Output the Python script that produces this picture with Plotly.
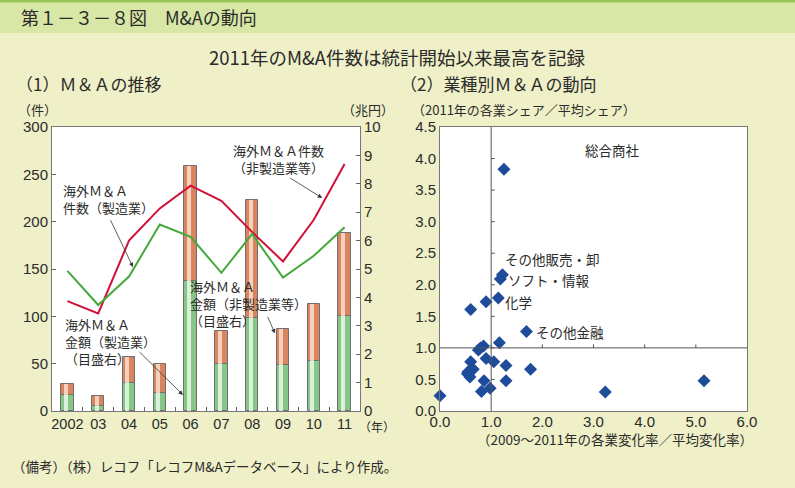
import plotly.graph_objects as go

# ---------------- data ----------------
years = ["2002", "03", "04", "05", "06", "07", "08", "09", "10", "11"]
amount_mfg = [0.56, 0.19, 1.00, 0.62, 4.59, 1.67, 3.29, 1.63, 1.76, 3.36]      # 兆円 (green)
amount_nonmfg = [0.38, 0.35, 0.89, 1.04, 4.02, 1.15, 4.14, 1.26, 2.01, 2.91]   # 兆円 (orange)
count_nonmfg = [116, 103, 180, 214, 238, 222, 189, 158, 202, 261]             # 件 (red)
count_mfg = [148, 112, 142, 197, 184, 146, 187, 141, 164, 194]                # 件 (green)

change_ratio = [1.25, 1.22, 1.18, 1.14, 1.69, 0.60, 0.90, 1.16, 0.75, 0.79, 0.85,
                0.60, 0.90, 1.05, 1.29, 0.65, 0.55, 0.535, 0.585, 0.86, 1.29, 1.77,
                0.81, 0.98, 0.00, 3.23, 5.16]
share_ratio = [3.83, 2.16, 2.09, 1.79, 1.26, 1.61, 1.73, 1.08, 0.965, 1.00, 1.03,
               0.78, 0.83, 0.78, 0.72, 0.66, 0.62, 0.59, 0.54, 0.48, 0.48, 0.66,
               0.31, 0.36, 0.24, 0.30, 0.48]
y_ticks_r = [0.0, 0.5, 1.0, 1.5, 2.0, 2.5, 3.0, 3.5, 4.0, 4.5]
x_ticks_r = [0.0, 1.0, 2.0, 3.0, 4.0, 5.0, 6.0]

FONT = "Liberation Sans, Noto Sans CJK JP, sans-serif"
JFONT = "Noto Sans CJK JP, sans-serif"
TXT = "#2b2b2b"
BG = "#EFF0C8"

W, H = 795, 488
def px(x):
    return x / W
def py(y):
    return 1 - y / H

fig = go.Figure()

# bars (axis y: right side, 兆円)
fig.add_trace(go.Bar(x=years, y=amount_mfg, width=0.4, offset=-0.2,
                     marker=dict(color="#86C686", line=dict(color="#6f6f6f", width=1)),
                     xaxis="x", yaxis="y", showlegend=False))
fig.add_trace(go.Bar(x=years, y=amount_nonmfg, base=amount_mfg, width=0.4, offset=-0.2,
                     marker=dict(color="#DB8560", line=dict(color="#6f6f6f", width=1)),
                     xaxis="x", yaxis="y", showlegend=False))
# highlight stripes for a cylinder look
fig.add_trace(go.Bar(x=years, y=amount_mfg, width=0.13, offset=-0.12,
                     marker=dict(color="rgba(235,248,235,0.85)", line=dict(width=0)),
                     xaxis="x", yaxis="y", showlegend=False))
fig.add_trace(go.Bar(x=years, y=amount_nonmfg, base=amount_mfg, width=0.13, offset=-0.12,
                     marker=dict(color="rgba(250,222,205,0.85)", line=dict(width=0)),
                     xaxis="x", yaxis="y", showlegend=False))

# lines (axis y2: left side, 件)
fig.add_trace(go.Scatter(x=years, y=count_nonmfg, mode="lines",
                         line=dict(color="#D0103A", width=2),
                         xaxis="x", yaxis="y2", showlegend=False))
fig.add_trace(go.Scatter(x=years, y=count_mfg, mode="lines",
                         line=dict(color="#44A83A", width=2),
                         xaxis="x", yaxis="y2", showlegend=False))

# scatter (right chart)
fig.add_trace(go.Scatter(x=change_ratio, y=share_ratio, mode="markers",
                         marker=dict(symbol="diamond", size=10, color="#1E4C9A"),
                         xaxis="x2", yaxis="y3", showlegend=False, cliponaxis=False))

shapes = []
# header band
shapes.append(dict(type="rect", xref="paper", yref="paper", x0=0, x1=1, y0=py(33), y1=1,
                   fillcolor="#D8E7A5", line=dict(width=0), layer="below"))
shapes.append(dict(type="rect", xref="paper", yref="paper", x0=0, x1=1, y0=py(2.5), y1=1,
                   fillcolor="#9BC45A", line=dict(width=0), layer="below"))
# reference lines in right chart
shapes.append(dict(type="line", xref="x2", yref="y3", x0=1, x1=1, y0=0, y1=4.5,
                   line=dict(color="#555", width=1)))
shapes.append(dict(type="line", xref="x2", yref="y3", x0=0, x1=6, y0=1, y1=1,
                   line=dict(color="#555", width=1)))
for t in y_ticks_r[1:-1]:
    shapes.append(dict(type="line", xref="x2", yref="y3", x0=1, x1=1.07, y0=t, y1=t,
                       line=dict(color="#555", width=1)))
for t in x_ticks_r[1:-1]:
    shapes.append(dict(type="line", xref="x2", yref="y3", x0=t, x1=t, y0=1, y1=1.055,
                       line=dict(color="#555", width=1)))

ann = []
def text(x, y, s, size=13, xanchor="left", yanchor="middle", family=JFONT, color=TXT):
    ann.append(dict(xref="paper", yref="paper", x=px(x), y=py(y), text=s, showarrow=False,
                    xanchor=xanchor, yanchor=yanchor, align="left",
                    font=dict(size=size, family=family, color=color)))

text(19, 17, "第１－３－８図　M&Aの動向", size=18)
text(397, 57, "2011年のM&A件数は統計開始以来最高を記録", size=18.5, xanchor="center")
text(14, 84, "（1）Ｍ＆Ａの推移", size=17)
text(398, 84, "（2）業種別Ｍ＆Ａの動向", size=17)
text(16, 110, "（件）", size=13)
text(340, 110, "（兆円）", size=13)
text(410, 110, "（2011年の各業シェア／平均シェア）", size=13)
text(615, 439, "（2009～2011年の各業変化率／平均変化率）", size=13.5, xanchor="center")
text(10, 466, "（備考）（株）レコフ「レコフM&Aデータベース」により作成。", size=13.5)
text(357, 426, "（年）", size=12)

# left chart labels
text(231, 159, "海外Ｍ＆Ａ件数<br>（非製造業等）", size=13)
text(61, 199, "海外Ｍ＆Ａ<br>件数（製造業）", size=13)
text(188, 303, "海外Ｍ＆Ａ<br>金額（非製造業等）<br>（目盛右）", size=13)
text(63, 341, "海外Ｍ＆Ａ<br>金額（製造業）<br>（目盛右）", size=13)

# right chart labels
text(583, 150, "総合商社", size=13.5)
text(503, 259, "その他販売・卸", size=13.5)
text(506, 280, "ソフト・情報", size=13.5)
text(503, 302, "化学", size=13.5)
text(534, 332, "その他金融", size=13.5)

# arrows (head at data position, tail in data coords)
arrows = [
    (8.27, 225, 7.19, 247),
    (2.13, 152, 1.38, 203),
    (6.74, 82, 6.48, 101),
    (3.75, 17, 2.29, 64),
]
for hx, hy, tx, ty in arrows:
    ann.append(dict(xref="x", yref="y2", axref="x", ayref="y2", x=hx, y=hy, ax=tx, ay=ty,
                    text="", showarrow=True, arrowhead=2, arrowsize=1.1, arrowwidth=0.8,
                    arrowcolor="#333"))

fig.update_layout(
    autosize=True, margin=dict(l=0, r=0, t=0, b=0, autoexpand=False),
    paper_bgcolor=BG, plot_bgcolor="white",
    barmode="overlay", bargap=0,
    font=dict(family=FONT, size=15, color=TXT),
    shapes=shapes, annotations=ann,
    xaxis=dict(domain=[px(52), px(360)], type="category", range=[-0.5, 9.5],
               tickson="boundaries", ticks="inside", ticklen=4, tickcolor="#666",
               tickangle=0,
               showline=True, linecolor="#777", mirror=True, showgrid=False,
               tickfont=dict(size=14.5, family=FONT, color=TXT), anchor="y"),
    yaxis=dict(domain=[py(411), py(127)], range=[0, 10], dtick=1, side="right",
               ticks="inside", ticklen=4, tickcolor="#666", showgrid=False, zeroline=False,
               showline=True, linecolor="#777", tickfont=dict(size=15, color=TXT),
               anchor="x"),
    yaxis2=dict(range=[0, 300], dtick=50, side="left", overlaying="y", anchor="x",
                ticks="inside", ticklen=4, tickcolor="#666", showgrid=False, zeroline=False,
                showline=True, linecolor="#777", tickfont=dict(size=15, color=TXT)),
    xaxis2=dict(domain=[px(440), px(747)], range=[0, 6], dtick=1, tickformat=".1f",
                showgrid=False, zeroline=False, showline=True, linecolor="#777", mirror=True,
                ticks="", tickfont=dict(size=15, color=TXT), anchor="y3",
                ticklabelstandoff=-3),
    yaxis3=dict(domain=[py(411), py(127)], range=[0, 4.5], dtick=0.5, tickformat=".1f",
                showgrid=False, zeroline=False, showline=True, linecolor="#777", mirror=True,
                ticks="", tickfont=dict(size=15, color=TXT), anchor="x2"),
)

fig.write_html("out.html",
               config={"displayModeBar": False},
               default_width="795px; position:absolute; left:0px; top:0px",
               default_height="488px")
